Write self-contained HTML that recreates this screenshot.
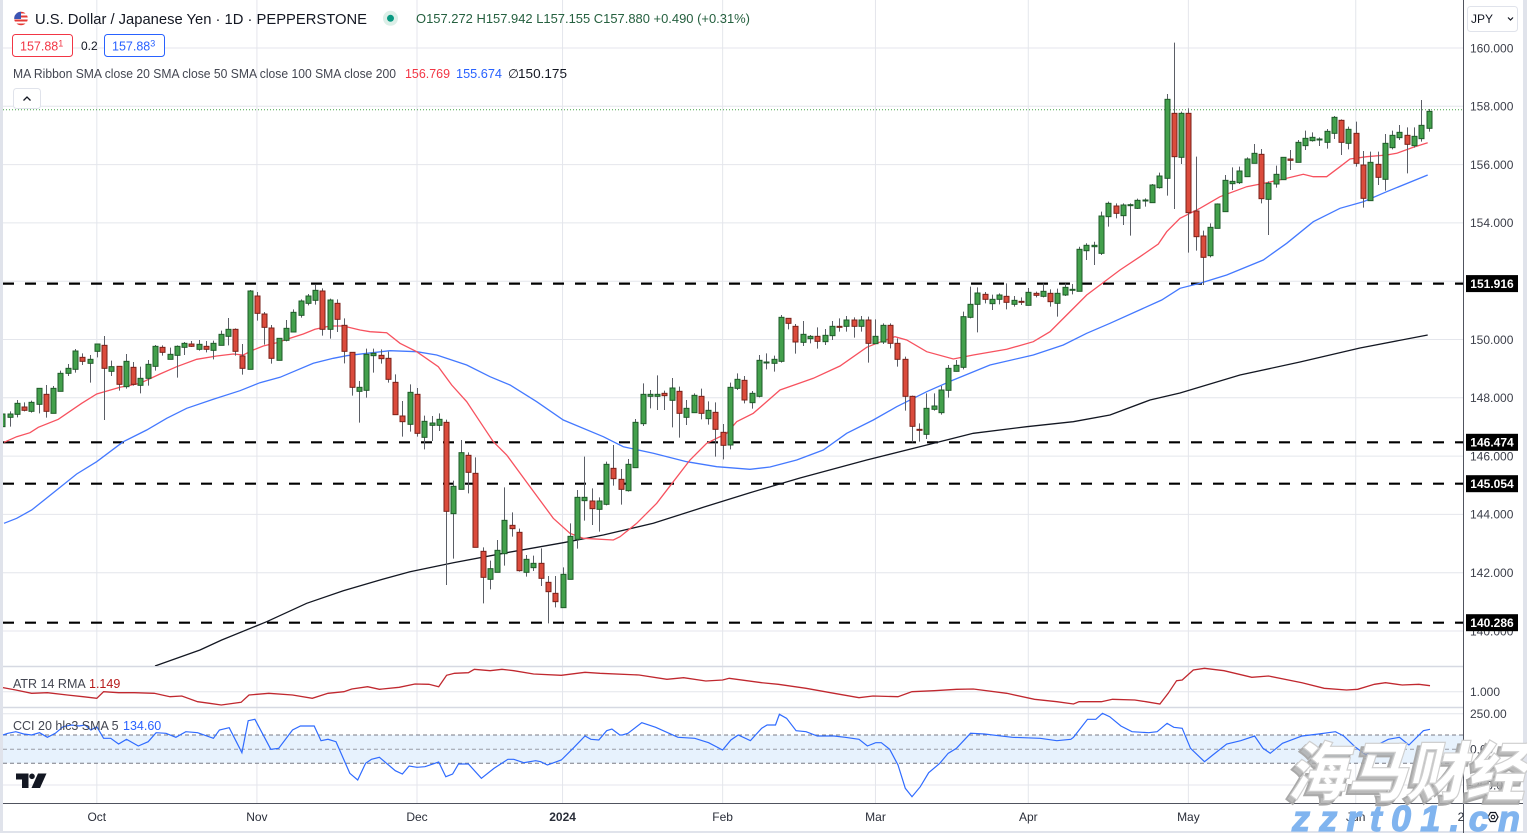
<!DOCTYPE html>
<html><head><meta charset="utf-8">
<style>
html,body{margin:0;padding:0;background:#fff;width:1527px;height:833px;overflow:hidden}
svg{display:block;font-family:"Liberation Sans",Arial,sans-serif}
</style></head>
<body>
<svg id="s" width="1527" height="833" viewBox="0 0 1527 833" xmlns="http://www.w3.org/2000/svg">
<defs>
<clipPath id="mainclip"><rect x="3" y="0" width="1460" height="666"/></clipPath>
<clipPath id="flagc"><circle cx="21" cy="18.5" r="6.8"/></clipPath>
</defs>
<rect width="1527" height="833" fill="#fff"/>
<!-- side strips -->
<rect x="0" y="0" width="3" height="833" fill="#e0e3eb"/>
<rect x="1523" y="0" width="4" height="833" fill="#e0e3eb"/>
<rect x="0" y="831" width="1527" height="2" fill="#e0e3eb"/>

<g id="grid" stroke="#e4e6ec" stroke-width="1"></g>

<!-- pane separators -->
<line x1="3" y1="666.5" x2="1463" y2="666.5" stroke="#d6d9e2" stroke-width="1.5"/>
<line x1="3" y1="707.5" x2="1463" y2="707.5" stroke="#d6d9e2" stroke-width="1.5"/>
<!-- ATR / CCI gridlines -->
<line x1="3" y1="691.7" x2="1463" y2="691.7" stroke="#e4e6ec"/>
<line x1="3" y1="713.8" x2="1463" y2="713.8" stroke="#e4e6ec"/>
<line x1="3" y1="785" x2="1463" y2="785" stroke="#e4e6ec"/>

<!-- CCI band -->
<rect x="3" y="735" width="1460" height="28.3" fill="#e7f2fd"/>
<g stroke="#787b86" stroke-width="1" stroke-dasharray="4 3">
<line x1="3" y1="735" x2="1463" y2="735"/>
<line x1="3" y1="749.3" x2="1463" y2="749.3" stroke="#9a9da6"/>
<line x1="3" y1="763.3" x2="1463" y2="763.3"/>
</g>

<g clip-path="url(#mainclip)">
<g stroke="#000" stroke-width="2.2" stroke-dasharray="11 11">
<line x1="3" y1="283.6" x2="1463" y2="283.6"/>
<line x1="3" y1="442.3" x2="1463" y2="442.3"/>
<line x1="3" y1="483.7" x2="1463" y2="483.7"/>
<line x1="3" y1="622.7" x2="1463" y2="622.7"/>
</g>
<line x1="3" y1="109.8" x2="1463" y2="109.8" stroke="#43a047" stroke-width="1" stroke-dasharray="1 2"/>

<polyline fill="none" stroke="#131722" stroke-width="1.3" points="155,666 200,650 221.7,640 266.7,621.7 306.7,603.3 343.3,590.7 380,580 410,571.7 453.3,562.7 503.3,553.3 563.3,542.7 603.3,535 653.3,523.3 703.3,507.3 750,492.7 800,478 866.7,460 926.7,445 973.3,433.3 1026.7,426.7 1073.3,421.7 1110,415 1150,400 1180,393 1240,375 1300,362 1360,348 1427.7,335"/>
<polyline fill="none" stroke="#4479ff" stroke-width="1.3" points="4,523.3 16.7,518.3 31.7,510 53.3,492.7 76.7,474 96.7,461.7 123.3,441.7 146.7,430 166.7,418.3 186.7,408.3 213.3,399.3 240,390.7 260,382.7 280,377.3 293.3,371.7 313.3,363.3 333.3,358.3 346.7,355.7 366.7,353.3 390,350.7 416.7,351.7 436.7,355 466.7,365 490,376.7 510,385 536.7,401.7 563.3,420 603.3,436.7 623.3,446.7 653.3,453.3 686.7,461.7 716.7,466.7 750,469.3 770,467 796.7,460 823.3,450 846.7,433.3 873.3,420 896.7,406.7 926.7,391.7 953.3,380 990,365 1033.3,355 1063.3,345 1086.7,333.3 1110,323.3 1161.7,300 1180,288.3 1200,283.3 1226.7,275 1263.3,260 1286.7,243.3 1313.3,221.7 1340,208.3 1363.3,201.7 1386.7,191.7 1427.7,175"/>
<polyline fill="none" stroke="#f7525f" stroke-width="1.3" points="4,442.3 16.7,436.7 30,432.7 38.3,427.3 58.3,419.3 81.7,403.3 96.7,394 120,387.3 140,383.3 160,374 176.7,366.7 196.7,359.3 216.7,356 233.3,354 243.3,355 253.3,350 263.3,346 276.7,342.7 290,338.3 303.3,334 315,329.3 330,326 343.3,326 360,330 370,331.7 386.7,332.7 400,343.3 416.7,351.7 438.3,366.7 451.7,385 466.7,401.7 483.3,426.7 493.3,441.7 506.7,455 530,486.7 553.3,518.3 570,533.3 583.3,538.3 613.3,540 620,536.7 636.7,523.3 656.7,503.3 673.3,481.7 690,460 706.7,443.3 726.7,433.3 736.7,421.7 753.3,413.3 780,390 813.3,378.3 840,366 866.7,347.3 876.7,343.3 895,336.7 906.7,340 926.7,351.7 953.3,359 973.3,355 1006.7,349.3 1033.3,341.7 1050,331.7 1066.7,315 1086.7,295 1100,285 1120,270 1140,256.7 1158.3,244 1166.7,231.7 1180,218.3 1200,208.3 1220,196.7 1246.7,186.7 1266.7,182.7 1286.7,178.3 1303.3,174.3 1313.3,176.7 1326.7,176.7 1340,166.7 1350,159 1366.7,156.7 1386.7,155 1396.7,153.3 1413.3,147.3 1427.7,142.7"/>
<g id="candles"></g>
</g>

<polyline fill="none" stroke="#c0282f" stroke-width="1.3" points="3,687.6 15.8,690 31.6,693.3 47.4,692.7 67.2,695 83,696.7 96.8,698.3 103.6,691.7 118.6,692.7 134.4,692.7 154.2,693.3 170,696.7 181.8,696 197.6,701.7 209.5,703.3 221.3,705 241.1,702.3 249,695 268.8,693.3 292.5,695 312.3,698.3 328,693.3 343.9,691.7 351.8,689 367.6,686.7 379.4,689.3 399.2,687.3 415,684 428.9,684.3 438.7,686.7 446.6,675.3 454.5,673.3 468.4,672.7 474.3,669.3 490.1,670.7 502,669.3 513.8,670.7 533.6,674 561.3,675.3 585,672.3 600,673.3 639,675 666.9,679.3 683.6,677.7 705.8,681 722.6,680 729.2,678.3 761.6,682.7 778.3,684.3 806.1,688.3 834,693.3 859,697.7 873,696 898,696.7 912,691.7 934.3,690.7 956.5,689.3 973.3,689 1006.7,693.3 1034.5,699.3 1056.8,701.7 1073.5,704 1079.1,701.7 1101.4,701.7 1112.5,699.3 1134.8,700 1145.9,701.7 1159.9,704 1168.2,693.3 1176.6,680.7 1182.2,680 1193.3,670 1204.5,668.3 1224,670.7 1251.8,677.3 1268.5,676 1302,682.7 1324.2,688.3 1346.5,690 1357.7,689.3 1374.4,684.3 1385.5,682.7 1402.2,685 1418.9,684.3 1430,685.7"/>
<polyline fill="none" stroke="#2f6bff" stroke-width="1.2" points="3,735 7.9,733.3 15.8,731.7 23.7,734 31.6,735 39.5,732.7 47.4,737.3 55.3,733.3 63.2,726.7 71.1,725 79,726 85,725 90.9,730 96.8,726.7 103.6,738.3 110.7,738.3 118.6,744 126.5,739.3 138.3,746 148.2,741.7 156.1,732.7 166,733.3 175.9,737.3 185.8,731.7 197.6,732.7 213.4,738.3 219.4,730 229.2,727.7 241.9,752.7 248.2,720.7 254.9,719.3 270.8,749.3 278.7,748.3 292.5,730 300.4,726 314.2,726 321,740.7 328,739.3 336,741.7 349.8,773.3 357.7,780 365.6,763.3 371.5,759.3 379.4,757.3 395.3,770.7 402.4,774 409.1,766 417,767.3 424.9,766.7 438.7,762 445.8,776.7 452.6,774 458.5,764 468.4,764 481.4,778.3 494.1,768.3 507.9,759.3 513.8,759.3 523.7,762.7 535.6,760.7 540.7,761.7 547.4,765 561.3,760 573.1,748.3 585,736 590.9,739.3 598.8,740 606.7,730.7 611.9,729 619.8,735 622.3,735 627.9,733.3 641.8,722.7 655.7,727.3 678,737.3 694.7,738.3 708.6,742.7 722.6,750 730.9,740 738.2,735 750.4,740.7 761.6,728.3 767.1,725 775.5,725 779.4,714.3 786.6,718.3 796.1,730.7 806.1,731.7 817.3,736 834,736 845.1,737.3 859,739.3 867.4,746 875.7,742.7 881.3,742.7 889.7,749.3 898,765 905.3,788.3 912,796.7 920.3,786.7 928.7,772.7 939.8,763.3 948.2,753.3 956.5,748.3 970.5,733.3 984.4,734 1012.3,737.3 1040.1,738.3 1056.8,740.7 1070.8,739.3 1073.5,737.3 1087.5,719.3 1095.8,719.3 1102.5,713.3 1109.7,716.7 1120.9,726 1132,731.7 1148.7,732.7 1157.1,731.7 1167.1,723.3 1173.8,727.3 1182.2,728.3 1190.5,748.3 1204.5,761.7 1212.8,755 1226.7,744 1240.7,740.7 1254.6,736 1263,748.3 1270.2,753.3 1282.5,743.3 1302,736 1318.7,734 1335.4,731.7 1343.7,736 1354.9,746.7 1366,755 1377.1,745 1388.3,739.3 1399.4,737.3 1408.9,745 1423.4,730.7 1430,729.3"/>

<line x1="1463.5" y1="0" x2="1463.5" y2="833" stroke="#50535e" stroke-width="1"/>
<line x1="3" y1="803.5" x2="1523" y2="803.5" stroke="#50535e" stroke-width="1"/>

<g font-size="12" fill="#3c3f4a">
<text x="1470" y="52.3">160.000</text>
<text x="1470" y="110.6">158.000</text>
<text x="1470" y="168.9">156.000</text>
<text x="1470" y="227.2">154.000</text>
<text x="1470" y="343.8">150.000</text>
<text x="1470" y="402.1">148.000</text>
<text x="1470" y="460.4">146.000</text>
<text x="1470" y="518.7">144.000</text>
<text x="1470" y="577">142.000</text>
<text x="1470" y="635.3">140.000</text>
<text x="1470" y="696">1.000</text>
<text x="1470" y="718">250.00</text>
<text x="1470" y="753.5">0.00</text>
<text x="1466" y="789.3">−250.00</text>
</g>
<g font-size="12" font-weight="bold" fill="#fff" text-anchor="middle">
<rect x="1466" y="275.1" width="52" height="17" fill="#000"/><text x="1492" y="288">151.916</text>
<rect x="1466" y="433.8" width="52" height="17" fill="#000"/><text x="1492" y="446.7">146.474</text>
<rect x="1466" y="475.2" width="52" height="17" fill="#000"/><text x="1492" y="488.1">145.054</text>
<rect x="1466" y="614.2" width="52" height="17" fill="#000"/><text x="1492" y="627.1">140.286</text>
</g>
<rect x="1467.5" y="6.5" width="50" height="25" rx="3" fill="#fff" stroke="#e0e3eb"/>
<text x="1471" y="23" font-size="12" fill="#131722">JPY</text>
<path d="M1508 17.5 l2.5 2.5 l2.5 -2.5" fill="none" stroke="#131722" stroke-width="1.2"/>

<g font-size="12" fill="#2a2e39" text-anchor="middle">
<text x="96.8" y="821">Oct</text>
<text x="256.9" y="821">Nov</text>
<text x="417" y="821">Dec</text>
<text x="562.6" y="821" font-weight="bold">2024</text>
<text x="722.6" y="821">Feb</text>
<text x="875.5" y="821">Mar</text>
<text x="1028.3" y="821">Apr</text>
<text x="1188.4" y="821">May</text>
<text x="1355.7" y="821">Jun</text>
<text x="1461" y="821">2</text>
</g>

<g clip-path="url(#flagc)">
<rect x="13" y="11" width="16" height="16" fill="#fff"/>
<rect x="13" y="11.5" width="16" height="2" fill="#e53935"/>
<rect x="13" y="15.5" width="16" height="2" fill="#e53935"/>
<rect x="13" y="19.5" width="16" height="2" fill="#e53935"/>
<rect x="13" y="23.5" width="16" height="2" fill="#e53935"/>
<rect x="13" y="11" width="8" height="8" fill="#3c55b4"/>
</g>
<text x="35" y="24" font-size="15" fill="#131722" textLength="332" lengthAdjust="spacingAndGlyphs">U.S. Dollar / Japanese Yen · 1D · PEPPERSTONE</text>
<circle cx="390.5" cy="18.3" r="7.5" fill="#dcefe8"/>
<circle cx="390.5" cy="18.3" r="3.5" fill="#089981"/>
<text x="416" y="23" font-size="12.5" fill="#25603f" textLength="334" lengthAdjust="spacingAndGlyphs">O157.272 H157.942 L157.155 C157.880 +0.490 (+0.31%)</text>

<rect x="12.5" y="34.5" width="60" height="22" rx="3" fill="#fff" stroke="#f23645"/>
<text x="20" y="50.5" font-size="12.5" fill="#f23645">157.88<tspan font-size="9" dy="-4">1</tspan></text>
<text x="81" y="50" font-size="12" fill="#131722">0.2</text>
<rect x="104.5" y="34.5" width="60" height="22" rx="3" fill="#fff" stroke="#2962ff"/>
<text x="112" y="50.5" font-size="12.5" fill="#2962ff">157.88<tspan font-size="9" dy="-4">3</tspan></text>

<text x="13" y="78" font-size="12.5" fill="#434651" textLength="383" lengthAdjust="spacingAndGlyphs">MA Ribbon SMA close 20 SMA close 50 SMA close 100 SMA close 200</text>
<text x="405" y="78" font-size="12.5" fill="#f23645" textLength="45" lengthAdjust="spacingAndGlyphs">156.769</text>
<text x="456" y="78" font-size="12.5" fill="#2962ff" textLength="46" lengthAdjust="spacingAndGlyphs">155.674</text>
<text x="508" y="78" font-size="12.5" fill="#131722">∅</text>
<text x="518" y="78" font-size="12.5" fill="#131722" textLength="49" lengthAdjust="spacingAndGlyphs">150.175</text>

<rect x="13.5" y="88.5" width="27" height="20" rx="3" fill="#fff" stroke="#e0e3eb"/>
<path d="M23.5 100.5 l3.5 -3.5 l3.5 3.5" fill="none" stroke="#131722" stroke-width="1.3"/>

<text x="13" y="688" font-size="12.5" fill="#434651">ATR 14 RMA</text>
<text x="89" y="688" font-size="12.5" fill="#b71c1c">1.149</text>
<text x="13" y="730" font-size="12.5" fill="#434651">CCI 20 hlc3 SMA 5</text>
<text x="123" y="730" font-size="12.5" fill="#2962ff">134.60</text>

<path d="M16 773.5 H28.5 V788 H22 V779.5 H16 Z" fill="#131722"/>
<circle cx="32" cy="776.3" r="2.8" fill="#131722"/>
<polygon points="38,773.5 46.5,773.5 40,788 31.5,788" fill="#131722"/>

<polygon points="1488,817 1490.5,812.5 1495.5,812.5 1498,817 1495.5,821.5 1490.5,821.5" fill="none" stroke="#131722" stroke-width="1.2"/>
<circle cx="1493" cy="817" r="1.8" fill="none" stroke="#131722" stroke-width="1.1"/>

<g font-family="'Noto Sans CJK SC','WenQuanYi Zen Hei',sans-serif" font-weight="900" font-style="italic">
<text x="1283" y="799" font-size="64" fill="#a9a9a9" fill-opacity="0.8" stroke="#a9a9a9" stroke-width="2" textLength="238" lengthAdjust="spacingAndGlyphs">海马财经</text>
<text x="1287" y="795" font-size="64" fill="#ffffff" stroke="#cfcfcf" stroke-width="1.2" textLength="238" lengthAdjust="spacingAndGlyphs">海马财经</text>
</g>
<text x="1292" y="831" font-size="36" font-weight="bold" font-style="italic" fill="#80b4ef" stroke="#80b4ef" stroke-width="1.2" textLength="228" lengthAdjust="spacing">zzrt01.cn</text>
</svg>
<script>
(function(){
var NS='http://www.w3.org/2000/svg';
function X(i){return 9.5+7.277*i;}
var grid=document.getElementById('grid');
function ln(p,x1,y1,x2,y2){var l=document.createElementNS(NS,'line');l.setAttribute('x1',x1);l.setAttribute('y1',y1);l.setAttribute('x2',x2);l.setAttribute('y2',y2);p.appendChild(l);return l;}
for(var k=0;k<=10;k++){var y=48+k*58.3;ln(grid,3,y,1463,y);}
[12,34,56,76,98,119,140,162,185].forEach(function(i){var x=X(i);ln(grid,x,0,x,803);});
var S=[
[-1,270,3,[
['g',432,470,424,470],['g',432,442,424,470],['g',400,433,390,442],['r',411,421,397,424],['g',397,424,392,428],
['g',355,403,355,430],['r',373,424,345,443],['g',355,430,348,430],['g',310,364,302,364],['g',295,310,282,318],
['g',243,298,237,308],['r',262,274,250,285],['g',268,280,255,338],['g',222,244,222,262],['r',226,295,198,450],
['g',290,304,272,318],['r',289,343,289,362],['g',274,350,252,356],['r',292,343,276,347],['g',325,346,290,370],
['g',283,325,270,347],['g',229,289,225,302],['r',232,247,226,257],['g',253,268,233,268],['g',229,256,226,323],
['g',220,232,216,255],['r',222,229,213,231],['g',223,238,210,242],['r',229,238,213,247],['g',220,241,212,268],
['g',193,226,182,226],['g',178,199,144,226],['r',178,244,175,257],['r',258,295,222,314],['g',63,298,60,298],
['r',78,130,66,152],['r',132,172,126,224],['r',174,265,165,281],['g',205,271,205,271],['g',175,211,150,214],
['g',127,186,118,186],['g',93,136,88,143],['g',78,100,72,106],['g',61,91,45,104],['r',63,178,55,197],
['g',90,178,86,206],['r',100,148,88,186],['r',166,244,145,280],['r',247,352,247,377],['g',352,364,333,458],
['g',253,361,236,383],['g',250,257,236,308]]],
[51,270,3,[
['r',256,266,238,281],['r',265,328,245,338],['r',337,434,313,434],['r',438,455,393,500],['g',367,463,343,485],
['r',373,490,354,500],['g',454,502,437,538],['g',459,466,438,513],['g',448,466,430,483],['r',457,724,449,945],
['g',649,731,632,866],['g',548,658,510,658],['r',556,607,547,670],['r',610,832,562,832],['r',844,922,832,1000],
['g',896,928,872,958],['g',841,907,810,907],['g',751,851,652,887],['r',766,776,727,800],['r',787,902,776,905],
['g',868,907,855,920],['g',880,893,857,903],['r',880,925,835,948],['r',937,965,918,1060],['r',970,995,918,1012],
['g',913,1013,892,1013],['g',799,928,760,928],['g',682,808,660,836],['g',682,692,560,752],['r',693,716,655,765],
['g',693,718,682,785],['g',583,703,575,706],['r',595,626,525,647],['r',628,658,597,704],['g',583,662,567,665],
['g',457,593,447,593],['g',373,461,340,468],['g',373,379,360,415],['g',373,379,316,420],['r',370,377,362,420],
['g',354,391,324,472],['r',364,430,350,503],['g',415,442,390,465],['g',376,428,370,428],['r',379,430,356,448],
['g',421,446,394,464],['r',427,478,397,560],['r',487,526,462,568],['g',352,525,338,538],['g',328,355,310,360],
['r',331,390,318,400]]],
[102,260,3,[
['g',400,428,393,446],['g',301,409,285,412],['g',306,308,280,328],['g',298,310,287,335],['g',172,304,165,308],
['r',175,190,175,208],['r',199,246,192,281],['g',223,247,183,258],['g',229,236,225,250],['r',229,244,202,266],
['g',226,245,207,255],['g',199,227,183,240],['r',199,201,175,215],['g',180,199,168,215],['r',180,199,172,233],
['g',180,199,168,215],['r',180,250,170,308],['g',229,251,178,251],['g',196,246,190,252],['r',196,250,190,265],
['r',250,298,235,320],['r',298,409,290,452],['r',409,499,407,547],['r',508,510,490,545],['g',445,523,400,537],
['g',438,448,400,452],['g',390,458,378,464],['g',325,391,315,413],['g',316,334,300,335],['g',170,322,155,328],
['g',133,172,80,175],['g',99,133,82,217],['r',103,118,96,130],['g',118,131,104,150],['g',105,118,100,133],
['r',109,127,70,148],['g',121,133,108,140],['r',124,127,112,135],['g',97,136,84,137],['r',100,106,95,112],
['g',94,109,70,112],['r',100,125,88,140],['g',100,130,86,170],['g',82,105,70,108],['g',88,90,72,103]]],
[147,0,1,[
['g',249.3,291.3,246.7,291.3],['g',245.3,250.7,243.3,260],['g',245.3,246.7,241.7,265]]],
[150,40,3,[
['g',528,640,515,645],['g',490,530,485,560],['r',498,520,490,535],['g',495,527,490,555],['g',494,497,490,587],
['g',481,505,476,507],['g',480,483,475,500],['g',435,488,432,488],['g',408,443,398,446],['g',178,415,162,467],
['r',220,350,8,507],['g',220,352,215,372],['r',220,518,205,638],['r',513,590,350,632],['r',588,652,572,735],
['g',562,647,550,652],['g',492,565,490,565],['g',421,515,405,515],['g',424,431,382,450],['g',393,428,380,432],
['g',357,410,352,410],['g',340,370,312,370],['r',343,476,327,490],['g',430,478,424,585],['g',403,432,377,443],
['g',352,419,352,419],['r',357,361,330,390],['g',307,367,300,367],['g',295,317,272,330],['g',292,302,277,305],
['g',297,300,292,318],['g',274,307,267,326],['g',232,280,228,297],['r',241,307,238,345],['g',268,310,260,328],
['r',280,370,245,380],['r',375,475,333,503],['g',367,482,335,482],['r',373,412,335,435],['g',310,418,282,452],
['g',286,323,272,328],['g',277,293,255,300],['r',286,313,262,400],['g',289,317,262,323],['g',256,296,180,305],
['g',214,265,207,275]]]
];
var cg=document.getElementById('candles');
S.forEach(function(seg){
  var start=seg[0],off=seg[1],sc=seg[2];
  seg[3].forEach(function(c,j){
    var i=start+j, xc=Math.round(X(i))+0.5;
    var bt=off+c[1]/sc, bb=off+c[2]/sc, wt=off+c[3]/sc, wb=off+c[4]/sc;
    var w=ln(cg,xc,wt,xc,wb); w.setAttribute('stroke','#5b5e66'); w.setAttribute('stroke-width','1');
    var r=document.createElementNS(NS,'rect');
    var h=Math.max(1,bb-bt);
    r.setAttribute('x',xc-2.5); r.setAttribute('y',bt); r.setAttribute('width',5); r.setAttribute('height',h);
    if(c[0]==='g'){r.setAttribute('fill','#43a04c');r.setAttribute('stroke','#1e5a28');}
    else{r.setAttribute('fill','#db4b3c');r.setAttribute('stroke','#7a2018');}
    r.setAttribute('stroke-width','1');
    cg.appendChild(r);
  });
});
})();
</script>
</body></html>
